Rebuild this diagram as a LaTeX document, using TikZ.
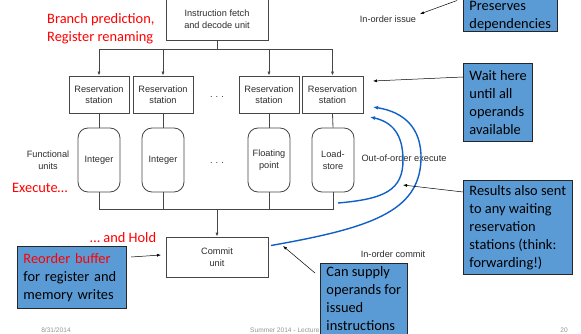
\documentclass[tikz,border=0pt]{standalone}
\usepackage{fontspec}
\setmainfont{Liberation Sans}
\newfontfamily\callfont{Carlito}
\usetikzlibrary{arrows.meta}
\definecolor{calloutblue}{RGB}{91,155,213}
\definecolor{curveblue}{RGB}{16,96,200}
\definecolor{linegray}{RGB}{70,70,70}
\definecolor{textgray}{RGB}{45,45,45}
\definecolor{footgray}{RGB}{150,150,150}
\tikzset{
  unitbox/.style={draw=linegray, line width=0.8pt, fill=white, align=center,
    text=textgray, font=\fontsize{9.2}{11.5}\selectfont, inner sep=0pt},
  rsbox/.style={unitbox, minimum width=60pt, minimum height=37pt},
  fubox/.style={unitbox, rounded corners=10pt, minimum width=42pt, minimum height=64pt},
  bigbox/.style={unitbox, minimum width=102pt, minimum height=41pt},
  wire/.style={draw=linegray, line width=0.8pt},
  feed/.style={wire, -{Latex[length=4pt,width=3.2pt]}},
  label/.style={text=textgray, align=center, font=\fontsize{9.2}{11.5}\selectfont, inner sep=0pt},
  note/.style={text=red, align=left, font=\callfont\fontsize{14.4}{18}\selectfont, inner sep=0pt},
  callout/.style={draw=black!85, line width=0.9pt, fill=calloutblue, align=left,
    font=\callfont\fontsize{14.4}{18}\selectfont, text=black, inner xsep=6pt, inner ysep=6pt, anchor=north west},
  pointer/.style={draw=black, line width=0.5pt, -{Latex[length=4pt,width=3pt]}},
  bypass/.style={draw=curveblue, line width=1.4pt, -{Latex[length=5pt,width=4pt]}},
  foot/.style={text=footgray, font=\fontsize{6.6}{7}\selectfont, inner sep=0pt}
}
\begin{document}
\begin{tikzpicture}[x=1pt,y=-1pt]
\useasboundingbox[fill=white] (0,0) rectangle (581,334);

% footer
\node[foot] (date) at (56,330) {8/31/2014};
\node[foot, anchor=west] (lect) at (250,330) {Summer 2014 - Lecture 11};
\node[foot] (page) at (564,330) {20};

% fetch/decode unit
\node[bigbox, minimum height=42pt] (fetch) at (217,19) {Instruction fetch\\and decode unit};

% reservation stations
\node[rsbox] (rs1) at (99,94.5) {Reservation\\station};
\node[rsbox] (rs2) at (163,94.5) {Reservation\\station};
\node[rsbox] (rs3) at (269,94.5) {Reservation\\station};
\node[rsbox, minimum width=61pt] (rs4) at (332.5,94.5) {Reservation\\station};
\node[label] (dotsA) at (217,97) {.\,\,.\,\,.};

% functional units
\node[fubox] (fu1) at (99,160) {Integer};
\node[fubox] (fu2) at (163,160) {Integer};
\node[fubox] (fu3) at (269,160) {Floating\\point};
\node[fubox] (fu4) at (333,160) {Load-\\store};
\node[label] (dotsB) at (217,163) {.\,\,.\,\,.};
\node[label] (fulab) at (48,160) {Functional\\units};

% commit unit
\node[bigbox, minimum height=40pt] (commit) at (217,257) {Commit\\unit};

% issue bus
\coordinate (bT) at (217,49);
\draw[wire] (fetch.south) -- (bT);
\draw[wire] (rs1.north |- bT) -- (rs4.north |- bT);
\foreach \r in {rs1,rs2,rs3,rs4} \draw[feed] (\r.north |- bT) -- (\r.north);
\foreach \r/\f in {rs1/fu1,rs2/fu2,rs3/fu3,rs4/fu4} \draw[wire] (\r.south) -- (\f.north);

% result bus
\coordinate (bB) at (217,209);
\draw[wire] (fu1.south) -- (fu1.south |- bB) -- (fu4.south |- bB) -- (fu4.south);
\draw[wire] (fu2.south) -- (fu2.south |- bB);
\draw[wire] (fu3.south) -- (fu3.south |- bB);
\draw[feed] (bB) -- (commit.north);

% side labels
\node[label] (issue) at (388,19) {In-order issue};
\node[label] (ooo) at (404,158) {Out-of-order execute};
\node[label] (icommit) at (393,254) {In-order commit};

% red annotations
\node[note, anchor=west] (branch) at (47,28.5) {Branch prediction,\\Register renaming};
\node[note, anchor=west] (exec) at (12,188) {Execute\ldots};
\node[note, anchor=west] (hold) at (90,238) {\ldots\ and Hold};

% forwarding paths
\coordinate (fwdA) at (338,203);
\coordinate (fwdB) at (271,245.5);
\coordinate (rsinA) at (370,117);
\coordinate (rsinB) at (373,107);
\draw[bypass] (fwdA) .. controls (385,199) and (403,190) .. (403,160)
  .. controls (403,134) and (392,122) .. (rsinA);
\draw[bypass] (fwdB) .. controls (370,228) and (419,212) .. (421,160)
  .. controls (422,128) and (404,112) .. (rsinB);

% callouts
\node[callout, inner ysep=1pt] (preserve) at (463,-0.5) {Preserves\\dependencies};
\node[callout, inner ysep=7pt] (wait) at (463,63) {Wait here\\until all\\operands\\available};
\node[callout, inner ysep=5pt] (results) at (463,180) {Results also sent\\to any waiting\\reservation\\stations (think:\\forwarding!)};
\node[callout, inner ysep=3.5pt] (supply) at (320,263) {Can supply\\operands for\\issued\\instructions};
\node[callout, text width=97pt, inner ysep=7pt] (reorder) at (17,246) {\textcolor{red}{Reorder buffer}\\for register and\\memory writes};

% callout pointers
\coordinate (pIssue) at (420,14);
\coordinate (pWait) at (373,81);
\coordinate (pRes) at (403,185);
\coordinate (pSup) at (283,246);
\coordinate (pCom) at (161,255);
\draw[pointer] (preserve.north west) ++(-6,1) -- (pIssue);
\draw[pointer] (wait.west |- 0,77) -- (pWait);
\draw[pointer] (results.west |- 0,192) -- (pRes);
\draw[pointer] (315,273) -- (pSup);
\draw[pointer] (131,257) -- (pCom);
\end{tikzpicture}
\end{document}
